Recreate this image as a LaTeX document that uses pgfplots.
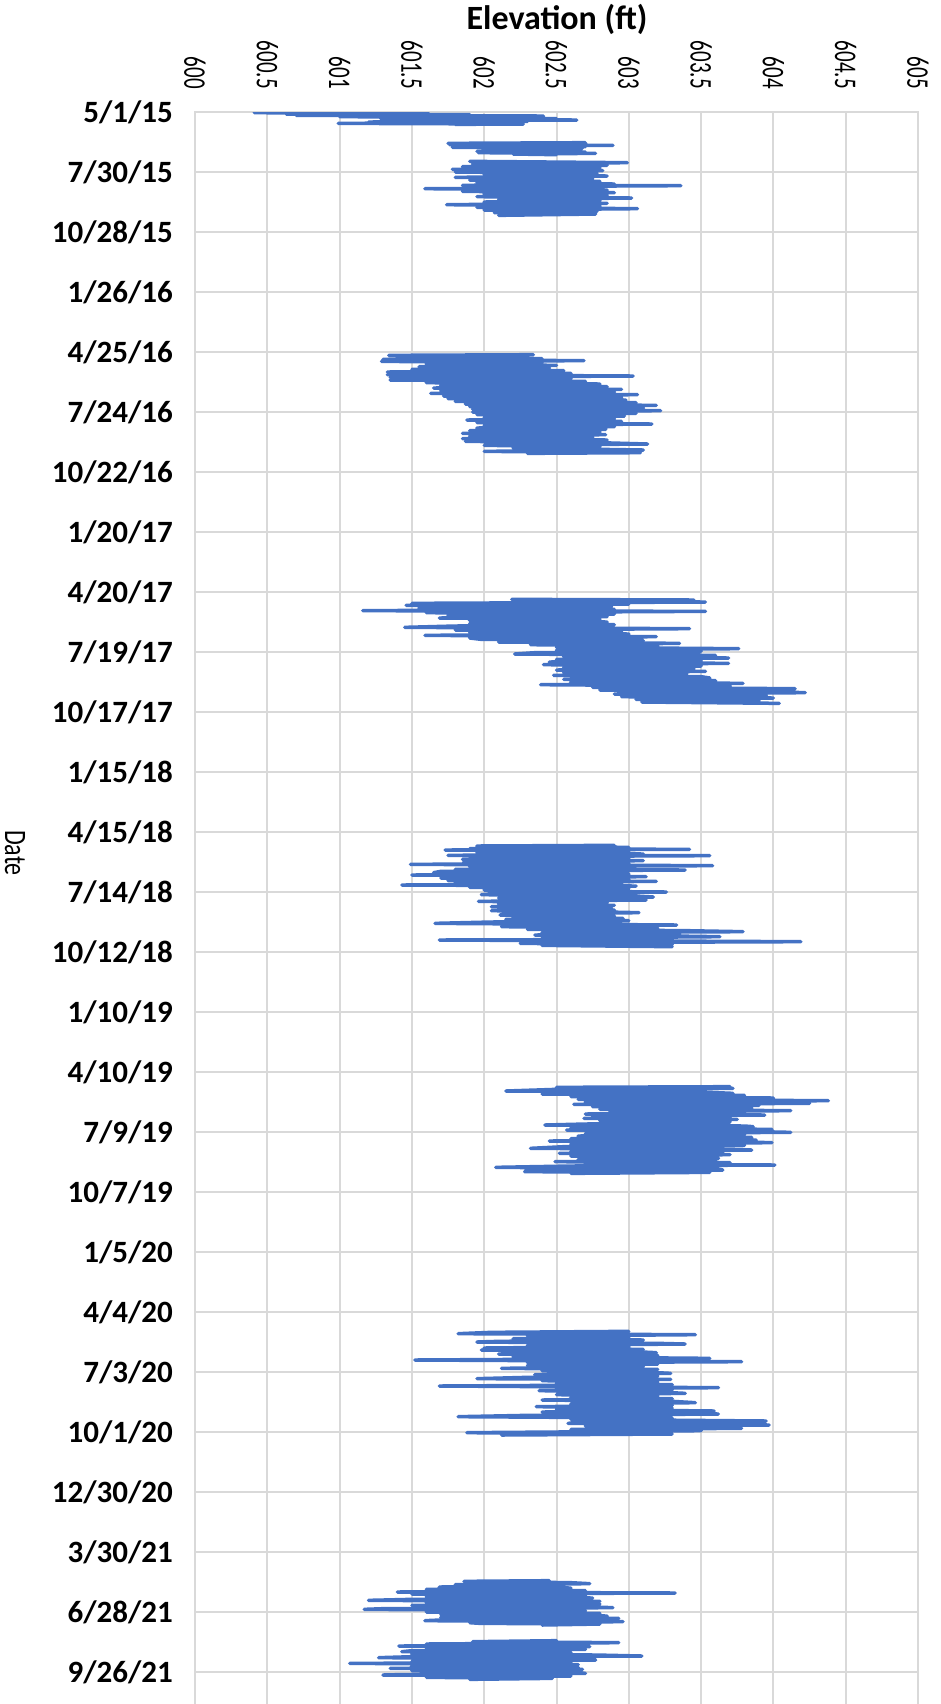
\documentclass[border=0pt]{standalone}
\usepackage{fontspec}
\setmainfont{Carlito}
\usepackage{graphicx}
\usepackage{pgfplots}
\pgfplotsset{compat=1.18}
\definecolor{exblue}{HTML}{4472C4}
\definecolor{gridgray}{HTML}{D9D9D9}
\newcommand\xl[1]{\scalebox{1}[1.5]{#1}}
\tikzset{wl/.style={draw=exblue, line width=3.5pt, line join=round, line cap=round, mark=none}}
\begin{document}
\begin{tikzpicture}
\useasboundingbox (0,0) rectangle (941pt,-1704pt);
\node at (557pt,-19pt) {\fontsize{34}{34}\selectfont\bfseries Elevation (ft)};
\node[rotate=-90] at (15pt,-853pt) {\fontsize{24}{24}\selectfont\scalebox{1}[1.3]{Date}};
\begin{axis}[
  at={(195pt,-112pt)}, anchor=north west,
  width=723pt, height=1600pt, scale only axis,
  xmin=600, xmax=605, ymin=0, ymax=2400, y dir=reverse,
  /pgf/number format/assume math mode=true,
  xtick={600,600.5,601,601.5,602,602.5,603,603.5,604,604.5,605},
  xticklabels={\xl{600},\xl{600.5},\xl{601},\xl{601.5},\xl{602},\xl{602.5},\xl{603},\xl{603.5},\xl{604},\xl{604.5},\xl{605}},
  xticklabel pos=top,
  xticklabel style={font=\fontsize{21}{21}\selectfont, rotate=-90, anchor=east, inner sep=0pt},
  xticklabel shift=23pt,
  ytick={0,90,180,270,360,450,540,630,720,810,900,990,1080,1170,1260,1350,1440,1530,1620,1710,1800,1890,1980,2070,2160,2250,2340},
  yticklabels={5/1/15,7/30/15,10/28/15,1/26/16,4/25/16,7/24/16,10/22/16,1/20/17,4/20/17,7/19/17,10/17/17,1/15/18,4/15/18,7/14/18,10/12/18,1/10/19,4/10/19,7/9/19,10/7/19,1/5/20,4/4/20,7/3/20,10/1/20,12/30/20,3/30/21,6/28/21,9/26/21},
  yticklabel style={font=\fontsize{31}{31}\selectfont\bfseries, anchor=east, inner sep=0pt},
  yticklabel shift=22pt,
  major tick length=0pt, tick style={draw=none},
  grid=major, major grid style={draw=gridgray, line width=2pt},
  axis line style={draw=gridgray, line width=2pt},
]
% 2015 a
\addplot[wl] coordinates {(601.61,0.5) (600.41,1) (601.3,2) (600.63,3) (601.9,4) (600.7,5) (602.41,6) (601.0,7) (602.3,8) (601.28,9) (602.5,10) (601.4,11) (602.64,12) (601.5,13) (602.3,14) (601.2,15) (602.2,16) (600.99,17) (602.27,18) (601.8,18.5)};
% 2015 b
\addplot[wl] coordinates {(602.7,46) (601.75,47) (602.65,48) (601.76,49) (602.89,50) (601.8,51) (602.7,52) (601.78,53) (602.68,54) (602.0,55) (602.6,56) (602.1,57) (602.65,58) (601.95,59) (602.7,60) (601.96,61) (602.77,62) (602.2,63) (602.5,64)};
% 2015 c
\addplot[wl] coordinates {(601.9,74) (602.99,76) (601.92,78) (602.85,80) (601.85,82) (602.8,84) (601.78,86) (602.82,88) (601.8,90) (602.78,92) (602.0,94) (602.85,96) (601.8,98) (602.75,100) (601.9,102) (602.8,104) (601.95,106) (602.9,108) (601.85,110) (603.36,110.5) (601.95,112) (602.8,114) (601.59,115) (602.85,117) (601.85,119) (602.9,121) (602.0,123) (602.85,125) (601.95,127) (603.02,129) (602.1,131) (602.8,133) (602.0,135) (602.85,137) (601.74,139) (602.8,141) (601.95,143) (603.06,145) (602.0,147) (602.78,149) (602.07,151) (602.77,153) (602.1,155)};
% 2016
\addplot[wl] coordinates {(602.34,364) (601.34,365) (602.3,367) (601.4,368) (602.4,370) (601.3,371) (602.69,373) (601.29,374) (602.4,376) (601.6,378) (602.5,380) (601.55,382) (602.45,384) (601.5,386) (602.55,388) (601.33,390) (602.6,392) (601.33,394) (603.03,396) (601.35,398) (602.6,400) (601.35,402) (602.7,404) (601.6,406) (602.8,408) (601.7,410) (602.85,412) (601.65,414) (602.95,416) (601.7,418) (602.9,420) (601.63,422) (603.06,424) (601.72,426) (602.95,428) (601.75,430) (602.98,432) (601.8,434) (603.05,436) (601.87,438) (603.19,440) (601.9,442) (603.1,444) (601.92,446) (603.22,448) (601.92,450) (603.05,452) (601.95,454) (602.97,456) (602.0,458) (602.9,460) (601.88,462) (602.95,464) (601.95,466) (603.16,468) (602.0,470) (602.9,472) (601.95,474) (602.84,476) (601.9,478) (602.8,480) (601.85,482) (602.84,484) (601.9,486) (602.75,488) (601.85,490) (602.85,492) (601.87,494) (602.8,496) (603.13,498) (602.0,500) (602.8,502) (602.2,504) (603.1,507) (602.0,509) (603.08,511) (602.3,512)};
% 2017
\addplot[wl] coordinates {(602.19,731) (603.45,732) (602.2,734) (603.53,735) (601.5,737) (603.0,738) (601.46,740) (602.88,742) (601.55,744) (602.9,746) (601.16,748) (603.53,749) (601.6,751) (602.9,753) (601.75,755) (602.85,757) (601.69,759) (602.8,761) (601.9,763) (602.85,765) (601.9,767) (602.9,769) (601.8,771) (601.45,773) (603.42,775) (601.8,777) (602.95,779) (601.9,781) (603.0,783) (601.59,785) (603.19,787) (601.9,789) (601.98,791) (603.1,793) (602.1,795) (603.35,797) (602.32,799) (603.2,801) (602.5,803) (603.76,805) (602.5,807) (603.5,809) (602.35,811) (602.21,813) (603.6,815) (602.55,817) (603.69,819) (602.5,821) (603.5,823) (602.45,825) (603.69,827) (602.41,829) (603.5,831) (602.55,833) (603.45,835) (602.5,837) (603.53,839) (602.55,841) (603.4,843) (602.48,845) (603.5,847) (603.56,849) (602.55,851) (603.6,853) (602.6,855) (603.79,857) (602.39,859) (603.7,861) (602.75,863) (604.15,865) (602.8,867) (603.9,869) (604.22,871) (602.9,873) (603.95,875) (602.95,877) (604.0,879) (603.05,881) (603.9,883) (603.09,885) (604.04,887)};
% 2018
\addplot[wl] coordinates {(602.9,1100) (601.95,1101) (603.0,1103) (601.9,1105) (603.42,1106) (601.73,1107) (603.0,1109) (601.95,1111) (603.1,1113) (601.75,1115) (603.56,1115.5) (601.9,1117) (603.0,1119) (601.85,1121) (603.1,1123) (601.86,1125) (603.0,1127) (601.49,1128.5) (603.58,1130.5) (601.9,1132) (603.0,1134) (601.8,1136) (603.39,1137) (601.7,1139) (601.65,1141) (603.0,1143) (601.5,1144.5) (603.12,1147) (601.7,1149) (603.0,1151) (601.75,1153) (603.19,1154) (601.8,1156) (602.95,1158) (601.43,1159.5) (603.05,1161) (601.9,1163) (603.0,1165) (602.0,1167) (602.08,1168) (603.26,1170) (602.1,1172) (601.98,1174) (603.05,1176) (603.17,1177.5) (602.1,1179) (602.95,1181) (603.12,1182) (601.96,1184) (602.85,1186) (602.1,1188) (602.9,1190) (602.05,1192) (602.88,1194) (602.1,1196) (602.9,1197) (602.05,1198) (602.85,1200) (603.07,1201) (602.15,1203) (602.11,1204.5) (602.9,1206) (602.2,1208) (602.96,1209.5) (602.15,1211) (603.0,1213) (602.05,1215) (601.66,1217) (603.33,1219.5) (602.3,1221) (602.12,1222) (603.2,1224) (602.3,1226) (603.4,1228) (603.79,1229.5) (602.4,1231) (603.35,1233) (602.35,1234.5) (603.3,1236) (603.63,1237) (602.4,1239) (603.3,1241) (601.69,1242) (604.19,1244.5) (602.3,1246) (602.25,1247) (603.3,1249) (602.4,1250) (603.3,1252)};
% 2019
\addplot[wl] coordinates {(603.7,1462) (602.5,1463) (603.72,1464.5) (602.5,1466) (602.15,1468.5) (603.5,1470) (603.72,1472) (602.4,1473) (603.8,1475) (602.6,1477) (604.0,1479) (602.65,1481) (604.38,1483) (602.7,1485) (604.25,1487) (602.62,1488.5) (603.9,1490) (602.75,1492) (603.85,1494) (602.8,1496) (604.12,1498) (602.87,1499.5) (603.8,1501) (602.7,1503) (603.94,1504.5) (602.75,1506) (603.7,1508) (602.69,1509.5) (603.75,1511) (602.8,1513) (603.7,1515) (603.67,1516) (602.7,1518) (602.42,1519.5) (603.8,1521) (603.86,1522) (602.6,1524) (603.99,1526) (602.57,1527) (603.8,1529) (604.12,1530.5) (602.7,1532) (603.8,1534) (602.65,1536) (603.85,1538) (602.6,1540) (603.88,1542) (602.45,1543.5) (603.8,1545) (603.99,1546) (602.6,1548) (603.8,1550) (602.55,1552) (602.32,1554.5) (603.7,1556) (603.85,1557) (602.6,1559) (603.65,1561) (602.52,1562) (603.7,1564) (602.6,1566) (603.6,1568) (603.62,1569.5) (602.65,1571) (603.6,1573) (602.49,1574.5) (603.7,1576) (602.7,1578) (604.01,1579.5) (602.6,1581) (602.08,1583) (603.6,1585) (603.65,1587) (602.3,1588) (602.28,1589.5) (603.56,1590.5) (602.6,1592)};
% 2020
\addplot[wl] coordinates {(603.0,1829) (602.05,1830.5) (601.82,1832.5) (603.46,1834) (602.3,1836) (603.0,1838) (602.2,1840) (603.1,1842) (602.1,1844) (601.95,1845) (603.2,1847) (603.39,1848) (602.3,1850) (603.0,1852) (602.0,1854) (603.1,1856) (601.98,1857) (603.0,1859) (603.19,1861) (602.1,1863) (603.2,1865) (602.2,1867) (603.56,1869.5) (602.3,1871) (601.52,1872) (603.3,1874) (603.78,1874.5) (602.3,1876) (603.2,1878) (602.3,1880) (603.1,1882) (602.12,1884.5) (603.2,1886) (602.4,1888) (603.1,1890) (603.29,1892) (602.35,1894) (603.2,1896) (602.3,1898) (601.95,1900) (603.29,1901) (602.4,1903) (603.2,1905) (602.5,1907) (603.3,1909) (601.69,1911) (603.62,1913.5) (602.5,1915) (603.3,1917) (602.38,1918) (603.2,1920) (603.39,1922) (602.5,1924) (603.2,1926) (602.6,1928) (603.3,1930) (602.4,1932) (603.3,1934) (603.46,1936) (602.6,1938) (603.3,1940) (602.36,1942) (603.3,1944) (602.5,1946) (603.59,1948.5) (602.4,1950) (603.3,1952) (603.62,1953) (602.3,1955) (601.82,1957) (603.3,1959) (602.6,1961) (603.95,1963.5) (602.7,1965) (602.58,1967) (603.97,1969.5) (602.7,1971) (603.4,1973) (603.78,1974.5) (602.6,1976) (603.5,1978) (602.5,1980) (601.88,1981) (603.3,1983) (602.12,1984.5)};
% 2021 a
\addplot[wl] coordinates {(602.45,2203) (601.86,2204) (602.6,2206) (602.73,2207.5) (601.8,2209) (602.55,2211) (601.69,2212.5) (602.6,2214) (601.6,2216) (602.7,2218) (601.4,2220) (603.32,2221.5) (601.5,2223) (602.7,2225) (601.6,2227) (602.75,2229) (601.5,2231) (601.2,2232.5) (602.8,2234) (601.6,2236) (602.8,2238) (601.5,2240) (602.7,2242) (602.89,2243.5) (601.3,2245) (601.17,2246) (602.7,2248) (601.6,2250) (602.8,2252) (601.7,2254) (602.85,2256) (601.7,2258) (602.93,2259.5) (601.8,2261) (601.59,2263) (602.96,2264.5) (601.9,2266) (601.97,2267) (602.8,2268) (602.4,2269.5)};
% 2021 b
\addplot[wl] coordinates {(602.5,2293) (601.92,2294.5) (602.93,2296) (601.6,2298) (602.7,2300) (601.41,2301) (602.73,2302) (601.6,2304) (602.7,2306) (601.5,2308) (601.43,2309.5) (602.6,2311) (601.5,2313) (602.77,2314.5) (603.09,2316) (601.5,2317) (601.27,2318.5) (602.75,2320) (602.77,2322) (601.5,2324) (602.6,2326) (601.07,2327) (602.65,2329) (601.5,2331) (602.65,2333) (601.35,2334.5) (602.68,2336) (601.5,2338) (602.6,2340) (602.7,2342) (601.4,2344) (601.3,2344.5) (602.6,2346) (601.6,2348) (602.47,2349.5) (601.9,2351)};
\end{axis}
\end{tikzpicture}
\end{document}
